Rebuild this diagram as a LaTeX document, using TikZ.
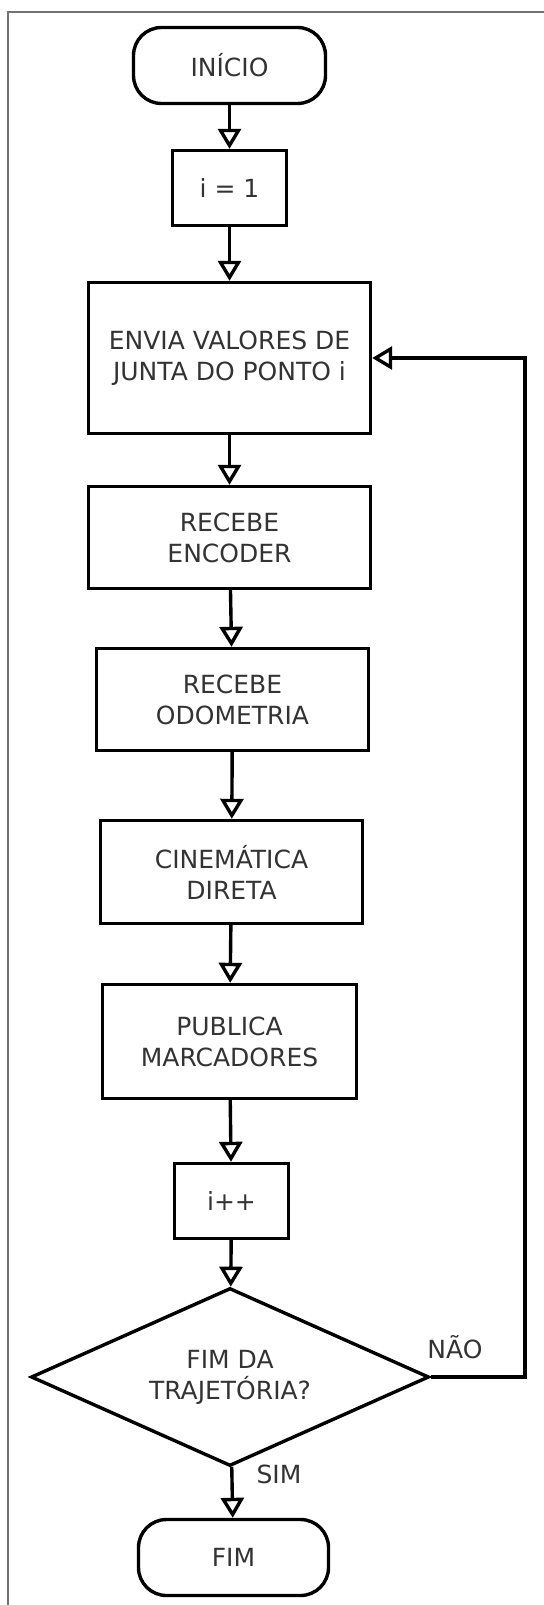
\documentclass[tikz,border=0pt]{standalone}
\usepackage{fontspec}
\setmainfont{DejaVu Sans}
\usetikzlibrary{positioning,shapes.geometric,arrows.meta}
\tikzset{font=\fontsize{12.5pt}{15.5pt}\selectfont}

\begin{document}
\begin{tikzpicture}[x=0.5pt, y=-0.5pt]
	\useasboundingbox (0,0) rectangle (544,1605);
	% moldura
	\draw[black!55, line width=0.6pt] (8,1605) -- (8,12) -- (544,12);
	\begin{scope}
		\tikzstyle{every node}=[align=center, text=black!80, line width=1.7pt, inner sep=1pt]
		\tikzstyle{bloco}=[draw, rectangle]
		\tikzstyle{terminal}=[draw, rectangle, rounded corners=14pt]
		\tikzstyle{fluxo}=[-{Triangle[open, length=10pt, width=11.5pt]}, line width=1.7pt]
		\node[terminal, minimum width=96pt,  minimum height=38pt]   (inicio)     at (229.5, 65.5)  {INÍCIO};
		\node[bloco,    minimum width=57pt,  minimum height=37.5pt] (ione)       at (229.5, 188)   {i = 1};
		\node[bloco,    minimum width=141pt, minimum height=75.5pt] (envia)      at (229.5, 358)   {ENVIA VALORES DE\\JUNTA DO PONTO i};
		\node[bloco,    minimum width=141pt, minimum height=51pt]   (encoder)    at (229.5, 537.5) {RECEBE\\ENCODER};
		\node[bloco,    minimum width=136pt, minimum height=51pt]   (odometria)  at (232.5, 699.5) {RECEBE\\ODOMETRIA};
		\node[bloco,    minimum width=131pt, minimum height=51.5pt] (cinematica) at (231.5, 872)   {CINEMÁTICA\\DIRETA};
		\node[bloco,    minimum width=127pt, minimum height=57pt]   (publica)    at (229.5, 1041.5){PUBLICA\\MARCADORES};
		\node[bloco,    minimum width=57pt,  minimum height=37.5pt] (iinc)       at (231.5, 1201)  {i++};
		\node[draw, diamond, aspect=2.2, inner sep=0pt, minimum width=199pt, minimum height=89pt] (decisao) at (230, 1377) {FIM DA\\TRAJETÓRIA?};
		\node[terminal, minimum width=95pt,  minimum height=38pt]   (fim)        at (233.5, 1557.5){FIM};

		\node (nao) at (455, 1347) {NÃO};
		\node (sim) at (279, 1474) {SIM};
		\coordinate (canto) at (525, 1377);

		\draw[fluxo] (inicio) -- (ione);
		\draw[fluxo] (ione) -- (envia);
		\draw[fluxo] (envia) -- (encoder);
		\draw[fluxo] (encoder) -- (odometria);
		\draw[fluxo] (odometria) -- (cinematica);
		\draw[fluxo] (cinematica) -- (publica);
		\draw[fluxo] (publica) -- (iinc);
		\draw[fluxo] (iinc) -- (decisao);
		\draw[fluxo] (decisao) -- (fim);
		\draw[fluxo] (decisao.east) -- (canto) |- (envia.east);
	\end{scope}
\end{tikzpicture}
\end{document}
